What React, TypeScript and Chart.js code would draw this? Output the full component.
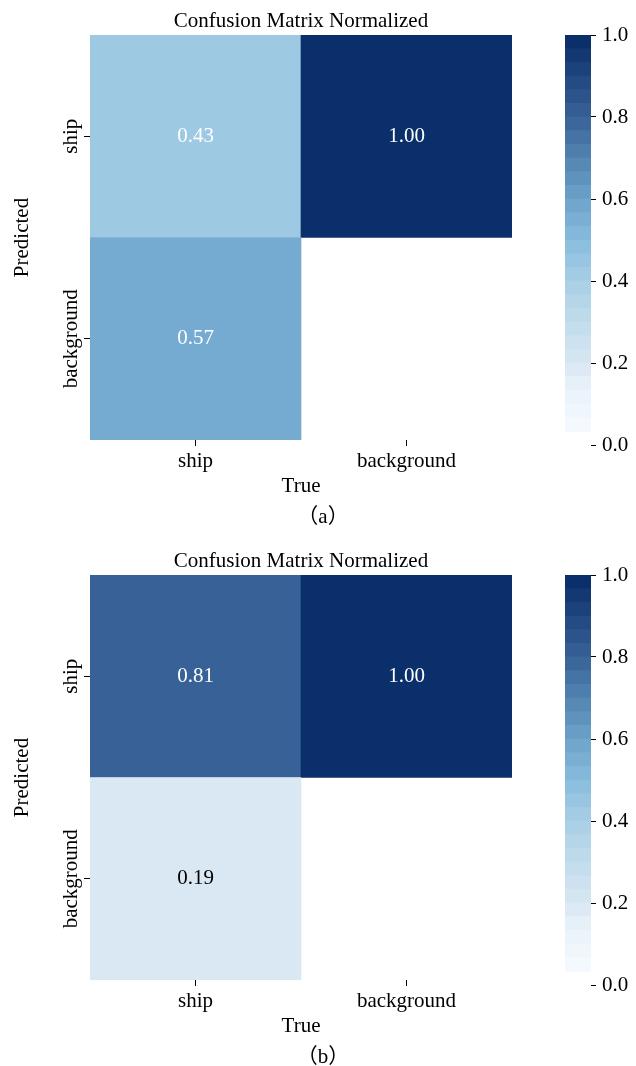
import React, { useEffect, useRef } from 'react';
import { Chart, registerables } from 'chart.js';

Chart.register(...registerables);

// ---- data ----
const trueLabels = ['ship', 'background'];
const predictedLabels = ['ship', 'background'];
// rows are predicted classes, columns are true classes; 0 means an empty cell
const matrixA_shipRow = [0.43, 1.0];
const matrixA_backgroundRow = [0.57, 0];
const matrixB_shipRow = [0.81, 1.0];
const matrixB_backgroundRow = [0.19, 0];
const colorbarTicks = [0, 0.2, 0.4, 0.6, 0.8, 1.0];
const chartTitle = 'Confusion Matrix Normalized';
const xAxisTitle = 'True';
const yAxisTitle = 'Predicted';
const captionA = '（a）';
const captionB = '（b）';

// ---- styling ----
const FONT_FAMILY = '"Liberation Serif", "Times New Roman", "Noto Sans CJK SC", serif';
const FONT_SIZE = 21;
const PANEL_H = 540;
const HEATMAP_CANVAS_W = 646;

// Blues colour map stops
const bluesStops: [number, string][] = [
  [0.0, '#f7fbff'],
  [0.125, '#e9f2fa'],
  [0.2, '#d6e6f2'],
  [0.3, '#c0dbec'],
  [0.4, '#a7cee5'],
  [0.5, '#88bcdd'],
  [0.6, '#6da3ca'],
  [0.7, '#5486b3'],
  [0.8, '#3a6599'],
  [0.9, '#234a82'],
  [1.0, '#0b2f6a'],
];

function hexToRgb(h: string) {
  const n = parseInt(h.slice(1), 16);
  return [(n >> 16) & 255, (n >> 8) & 255, n & 255];
}

function blues(v: number): string {
  const t = Math.max(0, Math.min(1, v));
  for (let i = 1; i < bluesStops.length; i++) {
    const [p1, c1] = bluesStops[i];
    const [p0, c0] = bluesStops[i - 1];
    if (t <= p1) {
      const f = (t - p0) / (p1 - p0);
      const a = hexToRgb(c0);
      const b = hexToRgb(c1);
      const c = a.map((x, k) => Math.round(x + (b[k] - x) * f));
      return `rgb(${c[0]},${c[1]},${c[2]})`;
    }
  }
  return bluesStops[bluesStops.length - 1][1];
}

function measure(text: string): number {
  const ctx = document.createElement('canvas').getContext('2d')!;
  ctx.font = `${FONT_SIZE}px ${FONT_FAMILY}`;
  return ctx.measureText(text).width;
}

Chart.defaults.font.family = FONT_FAMILY;
Chart.defaults.font.size = FONT_SIZE;
Chart.defaults.color = '#000';

// writes each cell's value in its centre
const cellValueLabels = {
  id: 'cellValueLabels',
  afterDatasetsDraw(chart: any) {
    const ctx = chart.ctx;
    chart.data.datasets.forEach((ds: any, di: number) => {
      const meta = chart.getDatasetMeta(di);
      meta.data.forEach((bar: any, i: number) => {
        const v = ds.values[i];
        if (!v) return;
        const { x, y, base } = bar.getProps(['x', 'y', 'base'], true);
        ctx.save();
        ctx.fillStyle = v > 0.3 ? '#ffffff' : '#000000';
        ctx.font = `${FONT_SIZE}px ${FONT_FAMILY}`;
        ctx.textAlign = 'center';
        ctx.textBaseline = 'middle';
        ctx.fillText(v.toFixed(2), x, (y + base) / 2);
        ctx.restore();
      });
    });
  },
};

const TICK_LEN = 6;

function heatmapConfig(shipRow: number[], backgroundRow: number[], caption: string): any {
  // stacked from the bottom: background row first, then ship row
  const rows = [backgroundRow, shipRow];
  const rowNames = [predictedLabels[1], predictedLabels[0]];
  const widest = Math.max(...predictedLabels.map(measure));
  const yLabelCenter = 71.5;
  const yAxisWidth = 90;
  const yTickPadding = yAxisWidth - yLabelCenter - TICK_LEN - widest / 2;

  return {
    type: 'bar',
    data: {
      labels: trueLabels,
      datasets: rows.map((row, i) => ({
        label: rowNames[i],
        data: row.map(() => 1),
        values: row,
        backgroundColor: row.map((v) => (v > 0 ? blues(v) : 'rgba(0,0,0,0)')),
        borderWidth: 0,
        barPercentage: 1,
        categoryPercentage: 1,
      })),
    },
    options: {
      responsive: false,
      animation: false,
      events: [],
      layout: { padding: { left: 0, right: 0, top: 0, bottom: 10.4 } },
      scales: {
        x: {
          type: 'category',
          stacked: true,
          offset: true,
          grid: {
            display: true,
            drawOnChartArea: false,
            drawTicks: true,
            tickLength: TICK_LEN,
            color: '#000',
            offset: false,
          },
          border: { display: false },
          ticks: { padding: 3, maxRotation: 0, minRotation: 0 },
          title: { display: true, text: xAxisTitle, padding: { top: 0, bottom: 0 } },
          afterFit: (s: any) => {
            s.height = 58.6;
          },
        },
        y: {
          type: 'linear',
          stacked: true,
          min: 0,
          max: predictedLabels.length,
          afterBuildTicks: (axis: any) => {
            axis.ticks = [{ value: 0.5 }, { value: 1.5 }];
          },
          grid: {
            display: true,
            drawOnChartArea: false,
            drawTicks: true,
            tickLength: TICK_LEN,
            color: '#000',
          },
          border: { display: false },
          ticks: {
            minRotation: 90,
            maxRotation: 90,
            crossAlign: 'center',
            padding: yTickPadding,
            callback: (v: number) => predictedLabels[predictedLabels.length - 1 - Math.floor(v)],
          },
          title: { display: true, text: yAxisTitle, padding: { top: 10, bottom: 0 } },
          afterFit: (s: any) => {
            s.width = yAxisWidth;
          },
        },
        // empty right-hand band that leaves room for the colour bar
        gutter: {
          type: 'linear',
          position: 'right',
          display: true,
          grid: { display: false },
          border: { display: false },
          ticks: { display: false },
          afterFit: (s: any) => {
            s.width = HEATMAP_CANVAS_W - 512;
          },
        },
      },
      plugins: {
        legend: { display: false },
        tooltip: { enabled: false },
        title: {
          display: true,
          text: chartTitle,
          color: '#000',
          font: { size: FONT_SIZE, weight: 'normal' },
          padding: { top: 8.4, bottom: 1.4 },
          fullSize: false,
        },
        subtitle: {
          display: true,
          text: caption,
          position: 'bottom',
          color: '#000',
          font: { size: FONT_SIZE, weight: 'normal' },
          padding: { top: 5.8, bottom: 0 },
          fullSize: true,
        },
      },
    },
    plugins: [cellValueLabels],
  };
}

const COLORBAR_BANDS = 30;

function colorbarConfig(): any {
  return {
    type: 'bar',
    data: {
      labels: [''],
      datasets: Array.from({ length: COLORBAR_BANDS }, (_, k) => ({
        data: [1 / COLORBAR_BANDS],
        backgroundColor: k === 0 ? 'rgba(0,0,0,0)' : blues(k / (COLORBAR_BANDS - 1)),
        borderWidth: 0,
        barPercentage: 1,
        categoryPercentage: 1,
      })),
    },
    options: {
      responsive: false,
      animation: false,
      events: [],
      layout: { padding: { left: 25, right: 0, top: 35, bottom: 95 } },
      scales: {
        x: { display: false, stacked: true },
        y: {
          position: 'right',
          stacked: true,
          min: 0,
          max: 1,
          afterBuildTicks: (axis: any) => {
            axis.ticks = colorbarTicks.map((value) => ({ value }));
          },
          grid: {
            display: true,
            drawOnChartArea: false,
            drawTicks: true,
            tickLength: 5,
            color: '#000',
          },
          border: { display: false },
          ticks: { padding: 6, callback: (v: number) => v.toFixed(1) },
          afterFit: (s: any) => {
            s.width = 45;
          },
        },
      },
      plugins: { legend: { display: false }, tooltip: { enabled: false } },
    },
  };
}

function ChartCanvas({ config, left, top, width, height }: any) {
  const ref = useRef<HTMLCanvasElement>(null);
  useEffect(() => {
    const chart = new Chart(ref.current!, config());
    return () => chart.destroy();
  }, []);
  return (
    <canvas
      ref={ref}
      width={width}
      height={height}
      style={{ position: 'absolute', left, top, width, height }}
    />
  );
}

function Panel({ top, shipRow, backgroundRow, caption }: any) {
  return (
    <>
      <ChartCanvas
        config={() => heatmapConfig(shipRow, backgroundRow, caption)}
        left={0}
        top={top}
        width={HEATMAP_CANVAS_W}
        height={PANEL_H}
      />
      <ChartCanvas config={colorbarConfig} left={540} top={top} width={96} height={PANEL_H} />
    </>
  );
}

export default function App() {
  return (
    <div
      style={{
        position: 'absolute',
        left: 0,
        top: 0,
        width: 636,
        height: 1066,
        overflow: 'hidden',
        background: '#fff',
      }}
    >
      <Panel top={0} shipRow={matrixA_shipRow} backgroundRow={matrixA_backgroundRow} caption={captionA} />
      <Panel top={PANEL_H} shipRow={matrixB_shipRow} backgroundRow={matrixB_backgroundRow} caption={captionB} />
    </div>
  );
}
